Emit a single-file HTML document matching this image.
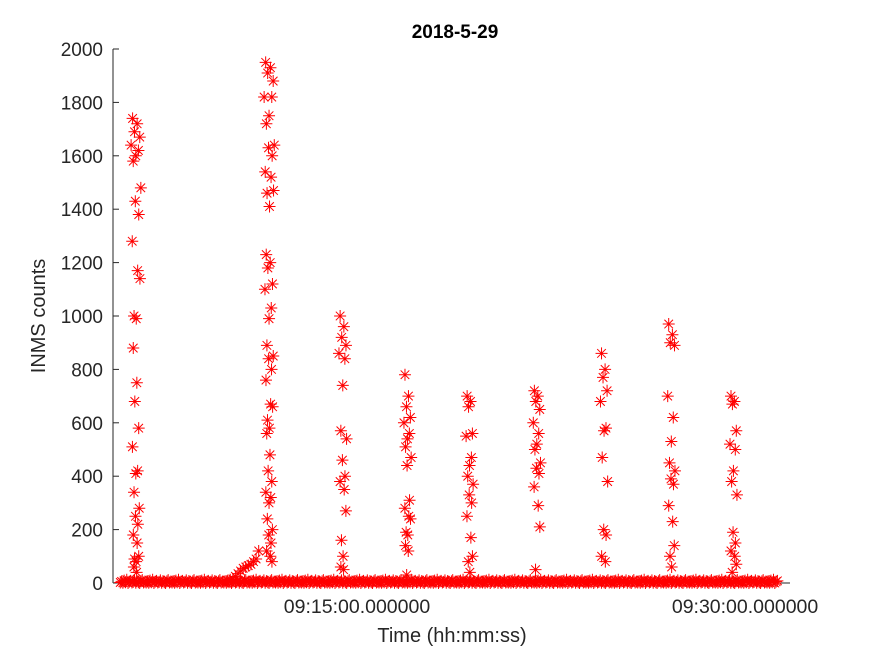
<!DOCTYPE html>
<html><head><meta charset="utf-8"><style>
html,body{margin:0;padding:0;background:#fff;}
svg{display:block;font-family:"Liberation Sans",Arial,sans-serif;}
</style></head><body>
<svg id="chart" width="875" height="656" viewBox="0 0 875 656" xmlns="http://www.w3.org/2000/svg">
<rect width="875" height="656" fill="#fff"/>
<text x="455" y="38" text-anchor="middle" font-size="19" font-weight="bold" fill="#000">2018-5-29</text>
<text transform="translate(45,316) rotate(-90)" text-anchor="middle" font-size="20" fill="#262626">INMS counts</text>
<text x="452" y="642" text-anchor="middle" font-size="20" fill="#262626">Time (hh:mm:ss)</text>
<g id="axes"></g>
<g id="marks" stroke="#ff0000" stroke-width="1" fill="none"></g>
</svg>
<script>
// data: time in minutes past 09:00, values in counts
const yTicks = [0,200,400,600,800,1000,1200,1400,1600,1800,2000];
const xTickTimes = [15,30];
const xTickLabels = ["09:15:00.000000","09:30:00.000000"];
const clusterCenters = [6.45,11.6,14.45,16.95,19.35,21.95,24.55,27.15,29.55];
const cluster1 = [1740,1720,1690,1670,1640,1620,1600,1580,1480,1430,1380,1280,1170,1140,1000,990,880,750,680,580,510,420,410,340,280,250,220,180,150,100,90,80,60,40];
const cluster2 = [1950,1930,1910,1880,1820,1820,1750,1720,1640,1630,1600,1540,1520,1470,1460,1410,1230,1200,1180,1120,1100,1030,990,890,850,840,800,760,670,660,610,580,560,480,420,380,340,320,300,240,200,180,150,120,100,80];
const cluster3 = [1000,960,920,890,860,840,740,570,540,460,400,380,350,270,160,100,60,50];
const cluster4 = [780,700,660,620,600,560,540,510,470,440,310,280,250,240,190,180,140,120,30];
const cluster5 = [700,680,660,560,550,470,440,400,370,330,300,250,170,100,80,40];
const cluster6 = [720,700,680,650,600,560,520,500,450,430,410,360,290,210,50];
const cluster7 = [860,800,770,720,680,580,570,470,380,200,180,100,80];
const cluster8 = [970,930,900,890,700,620,530,450,420,390,370,290,230,140,100,60];
const cluster9 = [700,680,670,570,520,500,420,380,330,190,150,120,100,70,40];
const clusterOffsets = [-0.12,0.05,-0.05,0.15,-0.18,0.1,0.0,-0.1,0.2,-0.02,0.12,-0.15,0.08,0.18,-0.08,0.02];
const rampTimes = [10.1,10.2,10.3,10.4,10.5,10.6,10.7,10.8,10.9,11.0,11.1,11.2];
const rampValues = [5,15,25,35,45,55,60,65,70,80,90,120];
const baselineStart = 5.85, baselineEnd = 31.3;
const baselineValues = [2,6,1,9,3,12,0,5,8,2,4,10,1,7,3,0,6,11,2,5];

const x0=113, x1=790, yBase=583, yTop=49;
const tMin = 15 - (357 - x0)/25.87, tMax = 15 + (x1 - 357)/25.87;
const X = t => x0 + (t - tMin)/(tMax - tMin)*(x1 - x0);
const Y = v => yBase - v/2000*(yBase - yTop);
const NS="http://www.w3.org/2000/svg";
const axes=document.getElementById('axes'), marks=document.getElementById('marks');
function mk(tag,attrs,parent){const e=document.createElementNS(NS,tag);for(const k in attrs)e.setAttribute(k,attrs[k]);parent.appendChild(e);return e;}

const yl=mk('line',{x1:x0,y1:yTop,x2:x0,y2:yBase,stroke:'#262626','stroke-width':1},axes);


const xl=mk('line',{x1:x0,y1:yBase,x2:x1,y2:yBase,stroke:'#262626','stroke-width':1},axes);


yTicks.forEach(v=>{
  const y=Y(v);
  mk('line',{x1:x0,y1:y,x2:x0+6,y2:y,stroke:'#262626'},axes);
  const t=mk('text',{x:x0-10,y:y+7,'text-anchor':'end','font-size':19,fill:'#262626'},axes);
  t.textContent=v;
  
  
});
xTickTimes.forEach((tt,i)=>{
  const x=X(tt);
  mk('line',{x1:x,y1:yBase,x2:x,y2:yBase-6,stroke:'#262626'},axes);
  const t=mk('text',{x:x,y:yBase+30,'text-anchor':'middle','font-size':19.5,fill:'#262626'},axes);
  t.textContent=xTickLabels[i];
  
  
});
function star(t,v){
  const x=X(t), y=Y(v), r=6, d=4.3;
  const p=mk('path',{d:`M${x-r},${y}H${x+r}M${x},${y-r}V${y+r}M${x-d},${y-d}L${x+d},${y+d}M${x-d},${y+d}L${x+d},${y-d}`},marks);
  
  
}
let k=0;
for(let t=baselineStart;t<=baselineEnd;t+=0.05){star(t,baselineValues[k%baselineValues.length]);k++;}
rampTimes.forEach((t,i)=>star(t,rampValues[i]));
[cluster1,cluster2,cluster3,cluster4,cluster5,cluster6,cluster7,cluster8,cluster9].forEach((vals,ci)=>{
  vals.forEach((v,i)=>star(clusterCenters[ci]+clusterOffsets[i%clusterOffsets.length]*(0.6+v/4000),v));
});
</script>
</body></html>
